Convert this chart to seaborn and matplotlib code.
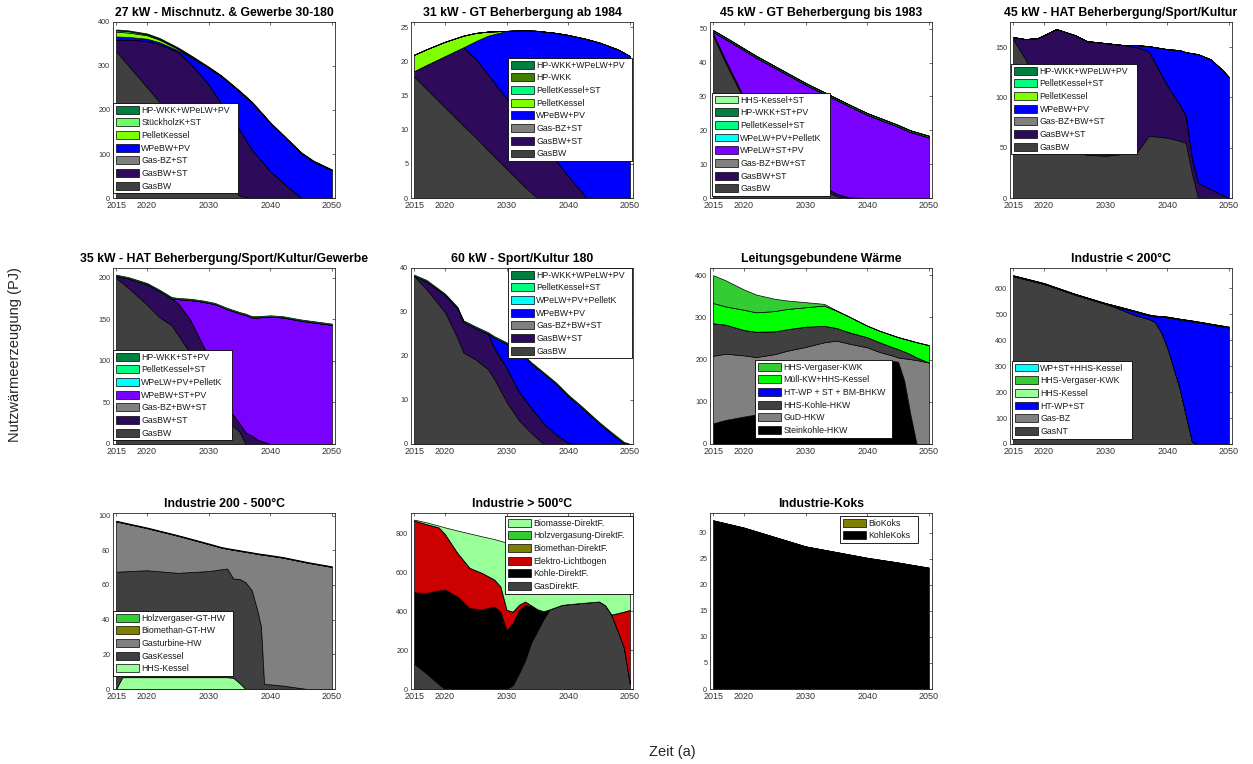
import matplotlib
matplotlib.use("Agg")
import matplotlib.pyplot as plt
from matplotlib.patches import Patch
import seaborn as sns
import pandas as pd

# ---------------- DATA ----------------
Y = [2015, 2017, 2020, 2022, 2025, 2027, 2030, 2032, 2035, 2037, 2040, 2042, 2045, 2047, 2050]

# Panel 1
p1_title = "27 kW - Mischnutz. & Gewerbe 30-180"
p1_years = Y
p1_GasBW = [334, 301, 252, 219, 170, 137, 87, 54, 5, 0, 0, 0, 0, 0, 0]
p1_GasBW_ST = [26, 59, 105, 131, 162, 170, 171, 162, 151, 110, 61, 36, 0, 0, 0]
p1_GasBZ_ST = [0] * 15
p1_WPeBW_PV = [7, 6, 5, 4, 4, 14, 38, 61, 86, 107, 109, 107, 102, 83, 63]
p1_Pellet = [11, 10, 8, 6, 3, 1, 0, 0, 0, 0, 0, 0, 0, 0, 0]
p1_Stueck_ST = [3, 3, 2, 2, 1.5, 1.5, 1, 1, 1, 1, 1, 1, 1, 1, 1]
p1_HPWKK = [2, 2, 2, 2, 2, 2, 1.5, 1.5, 1.5, 1.5, 1, 1, 1, 1, 1]
p1_labels = ["GasBW", "GasBW+ST", "Gas-BZ+ST", "WPeBW+PV", "PelletKessel", "StückholzK+ST", "HP-WKK+WPeLW+PV"]

# Panel 2
p2_title = "31 kW - GT Beherbergung ab 1984"
p2_years = [2015, 2017, 2020, 2023, 2025, 2027, 2030, 2033, 2035, 2038, 2040, 2043, 2045, 2048, 2050]
p2_GasBW = [17.8, 16.0, 13.3, 10.6, 8.9, 7.0, 4.3, 1.6, 0, 0, 0, 0, 0, 0, 0]
p2_GasBW_ST = [0.8, 3.5, 7.5, 11.5, 11.5, 11.1, 10.3, 9.6, 8.9, 5.5, 3.2, 0, 0, 0, 0]
p2_GasBZ_ST = [0] * 15
p2_WPeBW_PV = [0, 0, 0, 0, 2.6, 5.7, 9.9, 13.4, 15.6, 18.7, 20.7, 23.3, 22.8, 21.8, 20.8]
p2_Pellet = [2.4, 2.3, 2.1, 1.7, 1.2, 0.6, 0, 0, 0, 0, 0, 0, 0, 0, 0]
p2_Pellet_ST = [0] * 15
p2_HPWKK_only = [0] * 15
p2_HPWKK = [0] * 15
p2_labels = ["GasBW", "GasBW+ST", "Gas-BZ+ST", "WPeBW+PV", "PelletKessel", "PelletKessel+ST", "HP-WKK", "HP-WKK+WPeLW+PV"]

# Panel 3
p3_title = "45 kW - GT Beherbergung bis 1983"
p3_years = Y
p3_GasBW = [48, 40, 29, 22, 15, 11, 6, 3.5, 0.5, 0, 0, 0, 0, 0, 0]
p3_GasBW_ST = [0.6, 0.8, 0.8, 0.8, 0.8, 0.8, 0.8, 0.8, 0.8, 0.2, 0, 0, 0, 0, 0]
p3_GasBZ = [0] * 15
p3_WPeLW_ST_PV = [0.5, 6.2, 13.9, 18.7, 22.7, 24.7, 26.7, 27.4, 27.7, 27.0, 24.6, 23.2, 21.1, 19.5, 17.9]
p3_WPeLW_Pellet = [0] * 15
p3_Pellet_ST = [0] * 15
p3_HPWKK = [0.5] * 15
p3_HHS_ST = [0] * 15
p3_labels = ["GasBW", "GasBW+ST", "Gas-BZ+BW+ST", "WPeLW+ST+PV", "WPeLW+PV+PelletK", "PelletKessel+ST", "HP-WKK+ST+PV", "HHS-Kessel+ST"]

# Panel 4
p4_title = "45 kW - HAT Beherbergung/Sport/Kultur"
p4_years = [2015, 2017, 2019, 2022, 2025, 2027, 2030, 2033, 2035, 2037, 2040, 2042, 2043, 2044, 2045, 2047, 2049, 2050]
p4_GasBW = [158, 138, 110, 55, 45, 43, 42, 44, 45, 62, 60, 57, 55, 25, 0, 0, 0, 0]
p4_GasBW_ST = [2, 20, 49, 113, 117, 113, 112, 108, 105, 84, 52, 36, 27, 15, 15, 9, 3, 0]
p4_GasBZ = [0] * 18
p4_WPeBW_PV = [0, 0, 0, 0, 0, 0, 0, 0, 2, 5, 36, 54, 63, 104, 128, 129, 124, 120]
p4_Pellet = [0] * 18
p4_Pellet_ST = [0] * 18
p4_HPWKK = [0] * 18
p4_labels = ["GasBW", "GasBW+ST", "Gas-BZ+BW+ST", "WPeBW+PV", "PelletKessel", "PelletKessel+ST", "HP-WKK+WPeLW+PV"]

# Panel 5
p5_title = "35 kW - HAT Beherbergung/Sport/Kultur/Gewerbe"
p5_years = [2015, 2017, 2020, 2022, 2024, 2025, 2027, 2029, 2031, 2033, 2035, 2036, 2037, 2038, 2040, 2042, 2045, 2047, 2050]
p5_GasBW = [200, 188, 168, 153, 143, 132, 110, 80, 45, 28, 15, 0, 0, 0, 0, 0, 0, 0, 0]
p5_GasBW_ST = [2.5, 11.5, 24.5, 31.5, 32.5, 38, 40, 40, 45, 17, 10, 14, 10, 5, 0, 0, 0, 0, 0]
p5_GasBZ = [0] * 19
p5_WPeBW_ST_PV = [0, 0, 0, 0, 0, 4.5, 23.5, 51.5, 78.5, 117.5, 132.5, 141.5, 142.5, 147.5, 153.5, 152.5, 148.5, 146.5, 143.5]
p5_WPeLW_Pellet = [0] * 19
p5_Pellet_ST = [0] * 19
p5_HPWKK = [1.5] * 19
p5_labels = ["GasBW", "GasBW+ST", "Gas-BZ+BW+ST", "WPeBW+ST+PV", "WPeLW+PV+PelletK", "PelletKessel+ST", "HP-WKK+ST+PV"]

# Panel 6
p6_title = "60 kW - Sport/Kultur 180"
p6_years = [2015, 2017, 2020, 2022, 2023, 2025, 2027, 2028, 2030, 2032, 2034, 2036, 2038, 2040, 2042, 2045, 2047, 2049, 2050]
p6_GasBW = [38.2, 35.2, 30.0, 24.2, 20.8, 19.2, 17.0, 14.8, 9.6, 5.4, 2.5, 0, 0, 0, 0, 0, 0, 0, 0]
p6_GasBW_ST = [0, 1.8, 3.9, 6.7, 7.0, 7.2, 8.1, 7.0, 7.7, 6.5, 5.7, 4.7, 2.2, 0.3, 0, 0, 0, 0, 0]
p6_GasBZ = [0] * 19
p6_WPeBW_PV = [0, 0, 0, 0, 0, 0, 0, 2.4, 5.5, 9.0, 10.1, 11.3, 11.5, 10.6, 8.5, 4.7, 2.4, 0.2, 0]
p6_WPeLW_Pellet = [0] * 19
p6_Pellet_ST = [0] * 19
p6_HPWKK = [0.3] * 18 + [0]
p6_labels = ["GasBW", "GasBW+ST", "Gas-BZ+BW+ST", "WPeBW+PV", "WPeLW+PV+PelletK", "PelletKessel+ST", "HP-WKK+WPeLW+PV"]

# Panel 7
p7_title = "Leitungsgebundene Wärme"
p7_years = [2015, 2017, 2020, 2022, 2025, 2027, 2030, 2033, 2035, 2037, 2040, 2042, 2044, 2045, 2046, 2047, 2048, 2050]
p7_Steinkohle = [49, 57, 65, 70, 80, 90, 110, 135, 150, 165, 180, 190, 197, 195, 150, 70, 0, 0]
p7_GuD = [160, 157, 145, 136, 133, 131, 120, 106, 95, 73, 49, 28, 13, 10, 53, 131, 199, 193]
p7_HHSKohle = [77, 69, 60, 60, 54, 51, 48, 39, 30, 27, 24, 23, 20, 20, 16, 12, 6, 0]
p7_HTWP = [0] * 18
p7_Muell = [48, 43, 48, 46, 48, 48, 46, 48, 41, 37, 27, 27, 28, 28, 30, 32, 36, 41]
p7_Vergaser = [66, 62, 48, 42, 29, 20, 12, 4, 0.5, 0.5, 0.5, 0.5, 0.5, 0.5, 0.5, 0.5, 0.5, 0.5]
p7_labels = ["Steinkohle-HKW", "GuD-HKW", "HHS-Kohle-HKW", "HT-WP + ST + BM-BHKW", "Müll-KW+HHS-Kessel", "HHS-Vergaser-KWK"]

# Panel 8
p8_title = "Industrie < 200°C"
p8_years = [2015, 2020, 2025, 2030, 2032, 2035, 2037, 2038, 2039, 2040, 2042, 2044, 2045, 2050]
p8_GasNT = [646, 616, 575, 539, 522, 494, 481, 470, 430, 371, 215, 9, 0, 0]
p8_GasBZ = [0] * 14
p8_HTWP = [0, 0, 0, 0, 5, 14, 14, 21, 59, 116, 264, 463, 468, 448]
p8_HHSKessel = [0] * 14
p8_Vergaser = [3] * 14
p8_WPST = [0] * 14
p8_labels = ["GasNT", "Gas-BZ", "HT-WP+ST", "HHS-Kessel", "HHS-Vergaser-KWK", "WP+ST+HHS-Kessel"]

# Panel 9
p9_title = "Industrie 200 - 500°C"
p9_years = [2015, 2016, 2020, 2025, 2030, 2032, 2033, 2034, 2035, 2036, 2037, 2038, 2038.5, 2039, 2042, 2046, 2050]
p9_HHSKessel = [0, 6.8, 6.8, 6.8, 6.8, 6.8, 6.8, 6.5, 3.5, 0, 0, 0, 0, 0, 0, 0, 0]
p9_GasKessel = [67.6, 61.0, 61.7, 60.2, 61.2, 62.2, 62.7, 57.2, 60.0, 61.5, 57, 44, 36, 3, 2, 0, 0]
p9_Gasturbine = [29.1, 28.1, 24.3, 21.4, 15.6, 12.6, 11.4, 16.6, 16.2, 17.6, 21.5, 33.9, 41.6, 74.4, 73.8, 72.9, 70.4]
p9_Biomethan = [0] * 17
p9_Holz = [0.4] * 17
p9_labels = ["HHS-Kessel", "GasKessel", "Gasturbine-HW", "Biomethan-GT-HW", "Holzvergaser-GT-HW"]

# Panel 10
p10_title = "Industrie > 500°C"
p10_years = [2015, 2017, 2019, 2020, 2022, 2024, 2026, 2028, 2029, 2030, 2031, 2032, 2033, 2034, 2035,
             2036, 2037, 2039, 2042, 2045, 2046, 2047, 2048, 2049, 2050]
p10_Gas = [130, 80, 25, 0, 0, 0, 0, 0, 0, 0, 20, 80, 147, 240, 300, 360, 410, 433, 442, 450, 430, 380, 300, 216, 26]
p10_Kohle = [367, 414, 482, 511, 476, 416, 410, 424, 398, 303, 318, 327, 286, 184, 110, 40, 0, 0, 0, 0, 0, 0, 0, 0, 0]
p10_Elektro = [369, 354, 324, 286, 225, 207, 187, 139, 130, 104, 60, 26, 17, 6, 0, 0, 0, 0, 0, 0, 0, 3, 90, 182, 381]
p10_Biomethan = [0] * 25
p10_Holz = [0] * 25
p10_Biomasse = [5, 9, 9, 34, 114, 177, 188, 208, 234, 346, 347, 305, 280, 293, 306, 309, 292, 257, 230, 205,
                220, 262, 250, 237, 223]
p10_labels = ["GasDirektF.", "Kohle-DirektF.", "Elektro-Lichtbogen", "Biomethan-DirektF.", "Holzvergasung-DirektF.", "Biomasse-DirektF."]

# Panel 11
p11_title = "Industrie-Koks"
p11_years = [2015, 2020, 2025, 2030, 2035, 2040, 2045, 2050]
p11_KohleKoks = [32.4, 31.0, 29.2, 27.4, 26.3, 25.2, 24.3, 23.3]
p11_BioKoks = [0] * 8
p11_labels = ["KohleKoks", "BioKoks"]

x_ticks = [2015, 2020, 2030, 2040, 2050]

# ---------------- STYLE ----------------
sns.set_theme(style="white")
plt.rcParams['font.family'] = ['Liberation Sans', 'DejaVu Sans']

DG = "#404040"; PU = "#2d0b5a"; GR = "#808080"; BL = "#0000ff"; VI = "#7a00ff"
LI = "#80ff00"; SP = "#00ff80"; CY = "#00ffff"; DKG = "#008040"; OLG = "#3f7f00"
STK = "#66ff66"; PAL = "#99ff99"; MID = "#33cc33"; BRG = "#00ff00"; OLV = "#808000"
RED = "#cc0000"; BK = "#000000"

panels = [
    dict(t=p1_title, x=p1_years, s=[p1_GasBW, p1_GasBW_ST, p1_GasBZ_ST, p1_WPeBW_PV, p1_Pellet, p1_Stueck_ST, p1_HPWKK],
         l=p1_labels, c=[DG, PU, GR, BL, LI, STK, DKG], yl=400, yt=[0, 100, 200, 300, 400], lg=(0.0, 0.54, 0.563)),
    dict(t=p2_title, x=p2_years, s=[p2_GasBW, p2_GasBW_ST, p2_GasBZ_ST, p2_WPeBW_PV, p2_Pellet, p2_Pellet_ST, p2_HPWKK_only, p2_HPWKK],
         l=p2_labels, c=[DG, PU, GR, BL, LI, SP, OLG, DKG], yl=25.8, yt=[0, 5, 10, 15, 20, 25], lg=(0.437, 0.795, 0.559)),
    dict(t=p3_title, x=p3_years, s=[p3_GasBW, p3_GasBW_ST, p3_GasBZ, p3_WPeLW_ST_PV, p3_WPeLW_Pellet, p3_Pellet_ST, p3_HPWKK, p3_HHS_ST],
         l=p3_labels, c=[DG, PU, GR, VI, CY, SP, DKG, PAL], yl=52, yt=[0, 10, 20, 30, 40, 50], lg=(0.009, 0.597, 0.532)),
    dict(t=p4_title, x=p4_years, s=[p4_GasBW, p4_GasBW_ST, p4_GasBZ, p4_WPeBW_PV, p4_Pellet, p4_Pellet_ST, p4_HPWKK],
         l=p4_labels, c=[DG, PU, GR, BL, LI, SP, DKG], yl=175, yt=[0, 50, 100, 150], lg=(0.005, 0.761, 0.568)),
    dict(t=p5_title, x=p5_years, s=[p5_GasBW, p5_GasBW_ST, p5_GasBZ, p5_WPeBW_ST_PV, p5_WPeLW_Pellet, p5_Pellet_ST, p5_HPWKK],
         l=p5_labels, c=[DG, PU, GR, VI, CY, SP, DKG], yl=212, yt=[0, 50, 100, 150, 200], lg=(0.0, 0.534, 0.536)),
    dict(t=p6_title, x=p6_years, s=[p6_GasBW, p6_GasBW_ST, p6_GasBZ, p6_WPeBW_PV, p6_WPeLW_Pellet, p6_Pellet_ST, p6_HPWKK],
         l=p6_labels, c=[DG, PU, GR, BL, CY, SP, DKG], yl=40, yt=[0, 10, 20, 30, 40], lg=(0.437, 1.0, 0.559)),
    dict(t=p7_title, x=p7_years, s=[p7_Steinkohle, p7_GuD, p7_HHSKohle, p7_HTWP, p7_Muell, p7_Vergaser],
         l=p7_labels, c=[BK, GR, DG, BL, BRG, MID], yl=417, yt=[0, 100, 200, 300, 400], lg=(0.203, 0.477, 0.617)),
    dict(t=p8_title, x=p8_years, s=[p8_GasNT, p8_GasBZ, p8_HTWP, p8_HHSKessel, p8_Vergaser, p8_WPST],
         l=p8_labels, c=[DG, GR, BL, PAL, MID, CY], yl=677, yt=[0, 100, 200, 300, 400, 500, 600], lg=(0.009, 0.472, 0.541)),
    dict(t=p9_title, x=p9_years, s=[p9_HHSKessel, p9_GasKessel, p9_Gasturbine, p9_Biomethan, p9_Holz],
         l=p9_labels, c=[PAL, DG, GR, OLV, MID], yl=101.5, yt=[0, 20, 40, 60, 80, 100], lg=(0.0, 0.443, 0.541)),
    dict(t=p10_title, x=p10_years, s=[p10_Gas, p10_Kohle, p10_Elektro, p10_Biomethan, p10_Holz, p10_Biomasse],
         l=p10_labels, c=[DG, BK, RED, OLV, MID, PAL], yl=905, yt=[0, 200, 400, 600, 800], lg=(0.423, 0.983, 0.577)),
    dict(t=p11_title, x=p11_years, s=[p11_KohleKoks, p11_BioKoks],
         l=p11_labels, c=[BK, OLV], yl=33.8, yt=[0, 5, 10, 15, 20, 25, 30], lg=(0.586, 0.983, 0.351)),
]

W, H = 1253, 764
fig = plt.figure(figsize=(W / 100, H / 100), dpi=100)
fig.patch.set_facecolor("white")
cols_px = [113, 411, 710, 1010]
rows_px = [22, 268, 513]
aw, ah = 222, 176

for i, p in enumerate(panels):
    r, c = divmod(i, 4)
    x0, y0 = cols_px[c], rows_px[r]
    ax = fig.add_axes([x0 / W, 1 - (y0 + ah) / H, aw / W, ah / H])
    df = pd.DataFrame({lab: vals for lab, vals in zip(p['l'], p['s'])}, index=p['x'])
    ax.stackplot(df.index.values, *[df[lab].values for lab in p['l']], colors=p['c'],
                 edgecolor='black', linewidth=0.5)
    ax.set_xlim(2014.5, 2050.5)
    ax.set_ylim(0, p['yl'])
    ax.set_xticks(x_ticks)
    ax.set_yticks(p['yt'])
    ax.tick_params(direction='in', length=2.5, width=0.5, top=True, right=True,
                   colors='#333333', pad=2)
    ax.tick_params(axis='x', labelsize=6.5)
    ax.tick_params(axis='y', labelsize=5.2)
    for sp in ax.spines.values():
        sp.set_linewidth(0.6)
        sp.set_color('#262626')
    ax.set_title(p['t'], fontsize=8.8, fontweight='bold', pad=4, color='black')
    ax.set_facecolor('white')
    handles = [Patch(facecolor=col, edgecolor='black', linewidth=0.5, label=lab)
               for col, lab in zip(p['c'], p['l'])][::-1]
    lx, ly, lw = p['lg']
    leg = ax.legend(handles=handles, loc='upper left', bbox_to_anchor=(lx, ly, lw, 0), mode='expand',
                    borderaxespad=0, fontsize=6.3, handlelength=2.7, handleheight=1.0,
                    labelspacing=0.42, handletextpad=0.25, borderpad=0.3, fancybox=False,
                    framealpha=1, frameon=True)
    leg.get_frame().set_edgecolor('black')
    leg.get_frame().set_linewidth(0.6)
    for t in leg.get_texts():
        t.set_color('#1a1a1a')

fig.text(15 / W, 1 - 355 / H, "Nutzwärmeerzeugung (PJ)", rotation=90, ha='center', va='center',
         fontsize=10.5, color='#262626')
fig.text(672 / W, 1 - 752 / H, "Zeit (a)", ha='center', va='center', fontsize=10.5, color='#262626')

fig.savefig("out.png", dpi=100)
